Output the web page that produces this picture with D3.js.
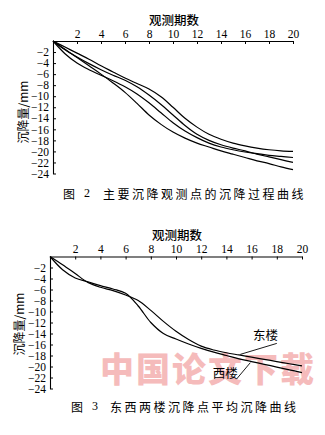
<!DOCTYPE html>
<html><head><meta charset="utf-8">
<script src="https://cdn.jsdelivr.net/npm/d3@7"></script>
<style>
html,body{margin:0;padding:0;background:#fff;}
svg{display:block;}
</style></head>
<body>
<script>
// ---- data ----
const periods = d3.range(0, 21);
const xTicks = [2,4,6,8,10,12,14,16,18,20];
const yTicks = [-2,-4,-6,-8,-10,-12,-14,-16,-18,-20,-22,-24];

// Fig.2: four main settlement observation points
const point1 = [0,-1.1,-2.2,-3.3,-4.5,-5.6,-6.7,-7.7,-8.7,-10.1,-12.0,-14.0,-15.6,-16.9,-17.8,-18.5,-19.0,-19.4,-19.7,-19.9,-20.0];
const point2 = [0,-1.6,-2.9,-4.1,-5.2,-6.2,-7.1,-8.3,-9.8,-11.5,-13.4,-15.3,-16.9,-18.0,-18.8,-19.4,-19.9,-20.5,-21.0,-21.5,-22.0];
const point3 = [0,-2.3,-4.0,-5.2,-6.2,-7.2,-8.3,-9.6,-11.2,-13.0,-14.8,-16.3,-17.5,-18.5,-19.2,-19.7,-20.1,-20.4,-20.7,-20.9,-21.1];
const point4 = [0,-1.5,-3.0,-4.5,-6.0,-7.6,-9.3,-11.3,-13.4,-15.1,-16.5,-17.6,-18.5,-19.2,-19.9,-20.5,-21.1,-21.7,-22.2,-22.8,-23.3];

// Fig.3: average settlement of east and west buildings
const eastBuilding = [0,-1.5,-3.1,-4.7,-5.6,-6.2,-7.0,-8.0,-9.8,-11.8,-13.6,-15.1,-16.3,-17.0,-17.5,-17.9,-18.3,-18.7,-19.1,-19.5,-19.9];
const westBuilding = [0,-2.4,-3.9,-4.6,-5.3,-5.9,-6.7,-9.0,-12.0,-14.0,-15.0,-15.9,-16.7,-17.4,-18.0,-18.6,-19.1,-19.6,-20.1,-20.6,-21.1];

const xTitle = "观测期数";
const yTitle = "沉降量/mm";
const caption2 = ["图 2", "主要沉降观测点的沉降过程曲线"];
const caption3 = ["图 3", "东西两楼沉降点平均沉降曲线"];
const labelEast = "东楼", labelWest = "西楼";

// ---- drawing ----
const W = 325, H = 435;
const svg = d3.select("body").append("svg").attr("width", W).attr("height", H);
const serif = "'Liberation Serif','DejaVu Serif',serif";
const cjk = "'Noto Sans CJK SC','Noto Sans CJK JP',sans-serif";

// watermark (behind everything)
svg.append("text").attr("x", 100).attr("y", 382)
  .attr("font-family", cjk).attr("font-weight", 900).attr("font-size", 34)
  .attr("letter-spacing", 2).attr("fill", "#f4b0b0").attr("opacity", 0.85)
  .text("中国论文下载");

function fmt(d){ return String(d).replace("-", "\u2212"); }

function drawChart(cfg){
  const x = d3.scaleLinear().domain([0,20]).range([cfg.x0, cfg.x1]);
  const y = d3.scaleLinear().domain([0,-24]).range([cfg.y0, cfg.y1]);
  const g = svg.append("g");

  // top x axis
  const xa = g.append("g").attr("transform", `translate(0,${cfg.y0})`)
    .call(d3.axisTop(x).tickValues(xTicks).tickSizeInner(-3).tickSizeOuter(0).tickPadding(3.5).tickFormat(d3.format("d")));
  xa.select(".domain").attr("stroke", "#000").attr("stroke-width", 1.1);
  xa.selectAll(".tick line").attr("stroke", "#000").attr("stroke-width", 1);
  xa.selectAll(".tick text").attr("font-family", serif).attr("font-size", 11.5).attr("fill", "#000");

  // left y axis
  const ya = g.append("g").attr("transform", `translate(${cfg.x0},0)`)
    .call(d3.axisLeft(y).tickValues(yTicks).tickSizeInner(-3).tickSizeOuter(0).tickPadding(4).tickFormat(fmt));
  ya.select(".domain").attr("stroke", "#000").attr("stroke-width", 1.1);
  ya.selectAll(".tick line").attr("stroke", "#000").attr("stroke-width", 1);
  ya.selectAll(".tick text").attr("font-family", serif).attr("font-size", 11.5).attr("fill", "#000");

  // titles
  g.append("text").attr("x", cfg.titleX).attr("y", cfg.titleY).attr("text-anchor", "middle")
    .attr("dominant-baseline", "central")
    .attr("font-family", cjk).attr("font-size", 12.5).attr("font-weight", 500).text(xTitle);
  g.append("text").attr("transform", `translate(${cfg.yTitleX},${cfg.yTitleY}) rotate(-90)`)
    .attr("text-anchor", "middle").attr("dominant-baseline", "central")
    .attr("font-family", cjk).attr("font-size", 12).text(yTitle);

  // lines
  const line = d3.line().x((d,i) => x(periods[i])).y(d => y(d)).curve(d3.curveCatmullRom.alpha(0.5));
  cfg.series.forEach(s => {
    g.append("path").datum(s).attr("d", line).attr("fill", "none")
      .attr("stroke", "#000").attr("stroke-width", 1.2);
  });

  // caption
  const cap = g.append("text").attr("y", cfg.capY).attr("dominant-baseline", "central")
    .attr("font-family", cjk).attr("font-size", 12);
  cap.append("tspan").attr("x", cfg.capX).attr("letter-spacing", 6).text(cfg.caption[0].split(" ")[0]);
  cap.append("tspan").attr("font-family", serif).text(" " + cfg.caption[0].split(" ")[1]);
  cap.append("tspan").attr("x", cfg.capX2).attr("letter-spacing", 2.5).text(cfg.caption[1]);
  return {x, y, g};
}

drawChart({
  x0: 53, x1: 293, y0: 41, y1: 173.5,
  titleX: 174, titleY: 19, yTitleX: 22, yTitleY: 112,
  series: [point1, point2, point3, point4],
  caption: caption2, capX: 63, capX2: 103, capY: 193
});

const c2 = drawChart({
  x0: 50, x1: 302, y0: 256.5, y1: 388.5,
  titleX: 177, titleY: 234, yTitleX: 18, yTitleY: 324,
  series: [eastBuilding, westBuilding],
  caption: caption3, capX: 71, capX2: 110, capY: 406
});

// annotations for Fig.3
const ann = c2.g.append("g").attr("font-family", cjk).attr("font-size", 12.5);
ann.append("text").attr("x", c2.x(17.1)).attr("y", c2.y(-14.2)).attr("text-anchor", "middle")
  .attr("dominant-baseline", "central").text(labelEast);
ann.append("line").attr("x1", c2.x(18.0)).attr("y1", c2.y(-15.8))
  .attr("x2", c2.x(15.1)).attr("y2", c2.y(-17.8)).attr("stroke", "#000").attr("stroke-width", 0.9);
ann.append("text").attr("x", c2.x(13.9)).attr("y", c2.y(-21.0)).attr("text-anchor", "middle")
  .attr("dominant-baseline", "central").text(labelWest);
ann.append("line").attr("x1", c2.x(14.8)).attr("y1", c2.y(-22.3))
  .attr("x2", c2.x(15.9)).attr("y2", c2.y(-19.3)).attr("stroke", "#000").attr("stroke-width", 0.9);
</script>
</body></html>
